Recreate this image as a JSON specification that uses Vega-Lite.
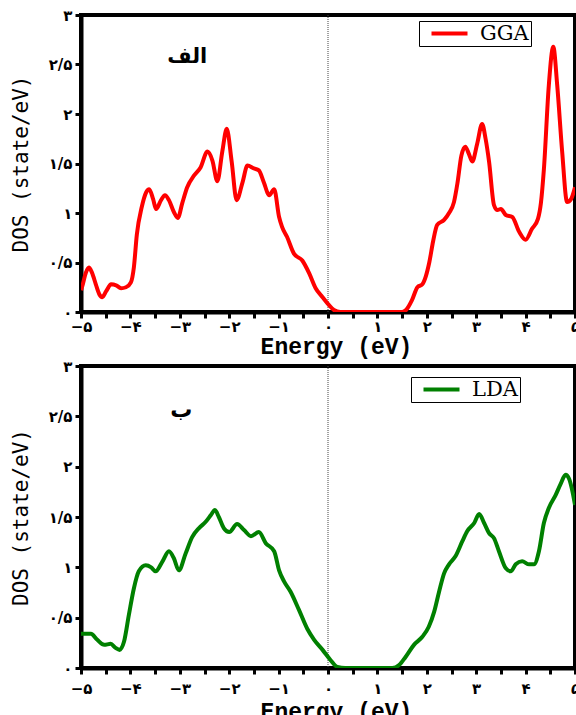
{
  "$schema": "https://vega.github.io/schema/vega-lite/v6.json",
  "background": "white",
  "padding": {"left": 8, "top": 6, "right": 0, "bottom": 0},
  "spacing": -3,
  "config": {
    "view": {"stroke": "black", "strokeWidth": 4},
    "axis": {
      "grid": false,
      "domainColor": "black",
      "domainWidth": 4,
      "tickColor": "black",
      "tickWidth": 3,
      "tickSize": 6,
      "labelColor": "black",
      "labelFont": "DejaVu Sans",
      "labelFontWeight": "bold",
      "labelFontSize": 15,
      "labelFlush": false,
      "labelOverlap": false,
      "titleColor": "black"
    },
    "legend": {
      "orient": "none",
      "title": null,
      "strokeColor": "black",
      "fillColor": "white",
      "padding": 2,
      "cornerRadius": 0,
      "labelFont": "DejaVu Serif",
      "labelFontSize": 21,
      "labelColor": "black",
      "symbolStrokeWidth": 4,
      "symbolType": "M0,0H8",
      "symbolSize": 81,
      "labelOffset": 38
    }
  },
  "datasets": {
    "gga": [
      {"x": -5.0, "y": 0.22}, {"x": -4.98, "y": 0.25}, {"x": -4.9, "y": 0.4}, {"x": -4.84, "y": 0.45},
      {"x": -4.78, "y": 0.4}, {"x": -4.7, "y": 0.28}, {"x": -4.63, "y": 0.18}, {"x": -4.57, "y": 0.15},
      {"x": -4.49, "y": 0.21}, {"x": -4.39, "y": 0.28}, {"x": -4.29, "y": 0.27}, {"x": -4.19, "y": 0.24},
      {"x": -4.09, "y": 0.25}, {"x": -3.99, "y": 0.3}, {"x": -3.93, "y": 0.45}, {"x": -3.87, "y": 0.78},
      {"x": -3.77, "y": 1.06}, {"x": -3.68, "y": 1.21}, {"x": -3.62, "y": 1.24}, {"x": -3.54, "y": 1.14},
      {"x": -3.48, "y": 1.04}, {"x": -3.38, "y": 1.13}, {"x": -3.3, "y": 1.18}, {"x": -3.22, "y": 1.13},
      {"x": -3.12, "y": 1.01}, {"x": -3.04, "y": 0.95}, {"x": -2.95, "y": 1.1}, {"x": -2.85, "y": 1.26},
      {"x": -2.71, "y": 1.38}, {"x": -2.58, "y": 1.46}, {"x": -2.44, "y": 1.62}, {"x": -2.34, "y": 1.53},
      {"x": -2.24, "y": 1.32}, {"x": -2.14, "y": 1.62}, {"x": -2.05, "y": 1.85}, {"x": -1.95, "y": 1.52},
      {"x": -1.85, "y": 1.13}, {"x": -1.73, "y": 1.31}, {"x": -1.63, "y": 1.48}, {"x": -1.5, "y": 1.45},
      {"x": -1.4, "y": 1.43}, {"x": -1.3, "y": 1.31}, {"x": -1.19, "y": 1.18}, {"x": -1.09, "y": 1.24},
      {"x": -0.99, "y": 0.96}, {"x": -0.93, "y": 0.86}, {"x": -0.83, "y": 0.76}, {"x": -0.69, "y": 0.59},
      {"x": -0.52, "y": 0.52}, {"x": -0.38, "y": 0.39}, {"x": -0.25, "y": 0.24}, {"x": -0.11, "y": 0.15},
      {"x": 0.02, "y": 0.07}, {"x": 0.12, "y": 0.02}, {"x": 0.25, "y": 0.0}, {"x": 0.5, "y": 0.0},
      {"x": 1.0, "y": 0.0}, {"x": 1.5, "y": 0.0}, {"x": 1.58, "y": 0.02}, {"x": 1.7, "y": 0.12},
      {"x": 1.81, "y": 0.25}, {"x": 1.91, "y": 0.28}, {"x": 1.98, "y": 0.36}, {"x": 2.05, "y": 0.5},
      {"x": 2.13, "y": 0.72}, {"x": 2.21, "y": 0.88}, {"x": 2.35, "y": 0.93}, {"x": 2.45, "y": 1.0},
      {"x": 2.55, "y": 1.11}, {"x": 2.62, "y": 1.3}, {"x": 2.7, "y": 1.58}, {"x": 2.78, "y": 1.67},
      {"x": 2.85, "y": 1.6}, {"x": 2.92, "y": 1.52}, {"x": 3.02, "y": 1.7}, {"x": 3.12, "y": 1.9},
      {"x": 3.19, "y": 1.75}, {"x": 3.26, "y": 1.52}, {"x": 3.36, "y": 1.08}, {"x": 3.43, "y": 1.03},
      {"x": 3.5, "y": 1.04}, {"x": 3.6, "y": 0.98}, {"x": 3.73, "y": 0.96}, {"x": 3.87, "y": 0.81},
      {"x": 4.0, "y": 0.73}, {"x": 4.13, "y": 0.84}, {"x": 4.25, "y": 0.94}, {"x": 4.31, "y": 1.1},
      {"x": 4.37, "y": 1.44}, {"x": 4.47, "y": 2.29}, {"x": 4.56, "y": 2.68}, {"x": 4.64, "y": 2.29},
      {"x": 4.74, "y": 1.62}, {"x": 4.84, "y": 1.11}, {"x": 4.92, "y": 1.14}, {"x": 5.0, "y": 1.26}
    ],
    "lda": [
      {"x": -5.0, "y": 0.34}, {"x": -4.94, "y": 0.34}, {"x": -4.8, "y": 0.34}, {"x": -4.67, "y": 0.28},
      {"x": -4.53, "y": 0.23}, {"x": -4.4, "y": 0.24}, {"x": -4.3, "y": 0.2}, {"x": -4.22, "y": 0.18},
      {"x": -4.13, "y": 0.26}, {"x": -4.03, "y": 0.53}, {"x": -3.93, "y": 0.79}, {"x": -3.83, "y": 0.96},
      {"x": -3.69, "y": 1.02}, {"x": -3.58, "y": 1.0}, {"x": -3.49, "y": 0.96}, {"x": -3.35, "y": 1.06},
      {"x": -3.22, "y": 1.16}, {"x": -3.12, "y": 1.09}, {"x": -3.02, "y": 0.97}, {"x": -2.88, "y": 1.14},
      {"x": -2.75, "y": 1.3}, {"x": -2.61, "y": 1.39}, {"x": -2.48, "y": 1.45}, {"x": -2.37, "y": 1.52},
      {"x": -2.29, "y": 1.57}, {"x": -2.21, "y": 1.5}, {"x": -2.11, "y": 1.39}, {"x": -2.0, "y": 1.35},
      {"x": -1.84, "y": 1.43}, {"x": -1.7, "y": 1.37}, {"x": -1.56, "y": 1.31}, {"x": -1.4, "y": 1.35},
      {"x": -1.26, "y": 1.24}, {"x": -1.09, "y": 1.16}, {"x": -0.99, "y": 0.97}, {"x": -0.89, "y": 0.86},
      {"x": -0.76, "y": 0.76}, {"x": -0.59, "y": 0.58}, {"x": -0.42, "y": 0.39}, {"x": -0.28, "y": 0.28},
      {"x": -0.11, "y": 0.18}, {"x": 0.05, "y": 0.08}, {"x": 0.19, "y": 0.01}, {"x": 0.35, "y": 0.0},
      {"x": 1.0, "y": 0.0}, {"x": 1.3, "y": 0.0}, {"x": 1.44, "y": 0.03}, {"x": 1.57, "y": 0.11},
      {"x": 1.74, "y": 0.23}, {"x": 1.91, "y": 0.31}, {"x": 2.04, "y": 0.41}, {"x": 2.15, "y": 0.56},
      {"x": 2.25, "y": 0.76}, {"x": 2.35, "y": 0.94}, {"x": 2.45, "y": 1.03}, {"x": 2.58, "y": 1.11},
      {"x": 2.72, "y": 1.26}, {"x": 2.82, "y": 1.36}, {"x": 2.96, "y": 1.44}, {"x": 3.06, "y": 1.53},
      {"x": 3.16, "y": 1.44}, {"x": 3.26, "y": 1.34}, {"x": 3.36, "y": 1.29}, {"x": 3.46, "y": 1.16},
      {"x": 3.6, "y": 0.99}, {"x": 3.7, "y": 0.96}, {"x": 3.8, "y": 1.03}, {"x": 3.93, "y": 1.06},
      {"x": 4.07, "y": 1.03}, {"x": 4.17, "y": 1.03}, {"x": 4.27, "y": 1.16}, {"x": 4.37, "y": 1.44},
      {"x": 4.47, "y": 1.59}, {"x": 4.61, "y": 1.72}, {"x": 4.71, "y": 1.83}, {"x": 4.81, "y": 1.92},
      {"x": 4.88, "y": 1.88}, {"x": 4.95, "y": 1.75}, {"x": 5.0, "y": 1.62}
    ],
    "fermi": [{"x": 0}],
    "labelTop": [{"x": -2.85, "y": 2.58, "label": "الف"}],
    "labelBottom": [{"x": -2.97, "y": 2.56, "label": "ب"}]
  },
  "vconcat": [
    {
      "width": 494,
      "height": 297,
      "encoding": {
        "x": {
          "field": "x", "type": "quantitative",
          "scale": {"domain": [-5, 5], "nice": false, "zero": false},
          "axis": {
            "title": "Energy (eV)",
            "titleFont": "Liberation Mono", "titleFontWeight": "bold", "titleFontSize": 23, "titlePadding": 1,
            "titleX": 255,
            "labelPadding": 1,
            "values": [-5, -4.5, -4, -3.5, -3, -2.5, -2, -1.5, -1, -0.5, 0, 0.5, 1, 1.5, 2, 2.5, 3, 3.5, 4, 4.5, 5],
            "labelExpr": "datum.value % 1 !== 0 ? '' : (datum.value < 0 ? '−' : '') + ['۰','۱','۲','۳','۴','۵'][abs(datum.value)]",
            "encode": {"ticks": {"update": {"y2": {"signal": "datum.value % 1 === 0 ? 6 : 3"}}}}
          }
        }
      },
      "layer": [
        {
          "data": {"name": "fermi"},
          "mark": {"type": "rule", "color": "#444444", "strokeWidth": 1, "strokeDash": [1, 1]}
        },
        {
          "data": {"name": "gga"},
          "mark": {"type": "line", "interpolate": "monotone", "strokeWidth": 4, "clip": true},
          "encoding": {
            "y": {
              "field": "y", "type": "quantitative",
              "scale": {"domain": [0, 3], "nice": false},
              "axis": {
                "title": "DOS (state/eV)",
                "titleFont": "DejaVu Sans Mono", "titleFontWeight": "normal", "titleFontSize": 21, "titlePadding": 17,
                "labelPadding": 3,
                "values": [0, 0.25, 0.5, 0.75, 1, 1.25, 1.5, 1.75, 2, 2.25, 2.5, 2.75, 3],
                "labelExpr": "datum.value % 0.5 !== 0 ? '' : ['۰','۱','۲','۳'][floor(datum.value)] + (datum.value % 1 === 0.5 ? '/۵' : '')",
                "encode": {"ticks": {"update": {"x2": {"signal": "datum.value % 0.5 === 0 ? -6 : -3"}}}}
              }
            },
            "color": {
              "datum": "GGA", "type": "nominal",
              "scale": {"domain": ["GGA"], "range": ["#ff0000"]},
              "legend": {"legendX": 338, "legendY": 6}
            }
          }
        },
        {
          "data": {"name": "labelTop"},
          "mark": {"type": "text", "font": "DejaVu Sans", "fontWeight": "bold", "fontSize": 21, "color": "black"},
          "encoding": {
            "y": {"field": "y", "type": "quantitative"},
            "text": {"field": "label"}
          }
        }
      ]
    },
    {
      "width": 494,
      "height": 302,
      "encoding": {
        "x": {
          "field": "x", "type": "quantitative",
          "scale": {"domain": [-5, 5], "nice": false, "zero": false},
          "axis": {
            "title": "Energy (eV)",
            "titleFont": "Liberation Mono", "titleFontWeight": "bold", "titleFontSize": 23, "titlePadding": 4,
            "titleX": 255,
            "labelPadding": 7,
            "values": [-5, -4.5, -4, -3.5, -3, -2.5, -2, -1.5, -1, -0.5, 0, 0.5, 1, 1.5, 2, 2.5, 3, 3.5, 4, 4.5, 5],
            "labelExpr": "datum.value % 1 !== 0 ? '' : (datum.value < 0 ? '−' : '') + ['۰','۱','۲','۳','۴','۵'][abs(datum.value)]",
            "encode": {"ticks": {"update": {"y2": {"signal": "datum.value % 1 === 0 ? 8 : 4"}}}}
          }
        }
      },
      "layer": [
        {
          "data": {"name": "fermi"},
          "mark": {"type": "rule", "color": "#444444", "strokeWidth": 1, "strokeDash": [1, 1]}
        },
        {
          "data": {"name": "lda"},
          "mark": {"type": "line", "interpolate": "monotone", "strokeWidth": 4, "clip": true},
          "encoding": {
            "y": {
              "field": "y", "type": "quantitative",
              "scale": {"domain": [0, 3], "nice": false},
              "axis": {
                "title": "DOS (state/eV)",
                "titleFont": "DejaVu Sans Mono", "titleFontWeight": "normal", "titleFontSize": 21, "titlePadding": 17,
                "labelPadding": 3,
                "values": [0, 0.25, 0.5, 0.75, 1, 1.25, 1.5, 1.75, 2, 2.25, 2.5, 2.75, 3],
                "labelExpr": "datum.value % 0.5 !== 0 ? '' : ['۰','۱','۲','۳'][floor(datum.value)] + (datum.value % 1 === 0.5 ? '/۵' : '')",
                "encode": {"ticks": {"update": {"x2": {"signal": "datum.value % 0.5 === 0 ? -6 : -3"}}}}
              }
            },
            "color": {
              "datum": "LDA", "type": "nominal",
              "scale": {"domain": ["LDA"], "range": ["#008000"]},
              "legend": {"legendX": 330, "legendY": 11}
            }
          }
        },
        {
          "data": {"name": "labelBottom"},
          "mark": {"type": "text", "font": "DejaVu Sans", "fontWeight": "bold", "fontSize": 22, "color": "black"},
          "encoding": {
            "y": {"field": "y", "type": "quantitative"},
            "text": {"field": "label"}
          }
        }
      ]
    }
  ],
  "resolve": {"scale": {"color": "independent"}, "legend": {"color": "independent"}}
}
